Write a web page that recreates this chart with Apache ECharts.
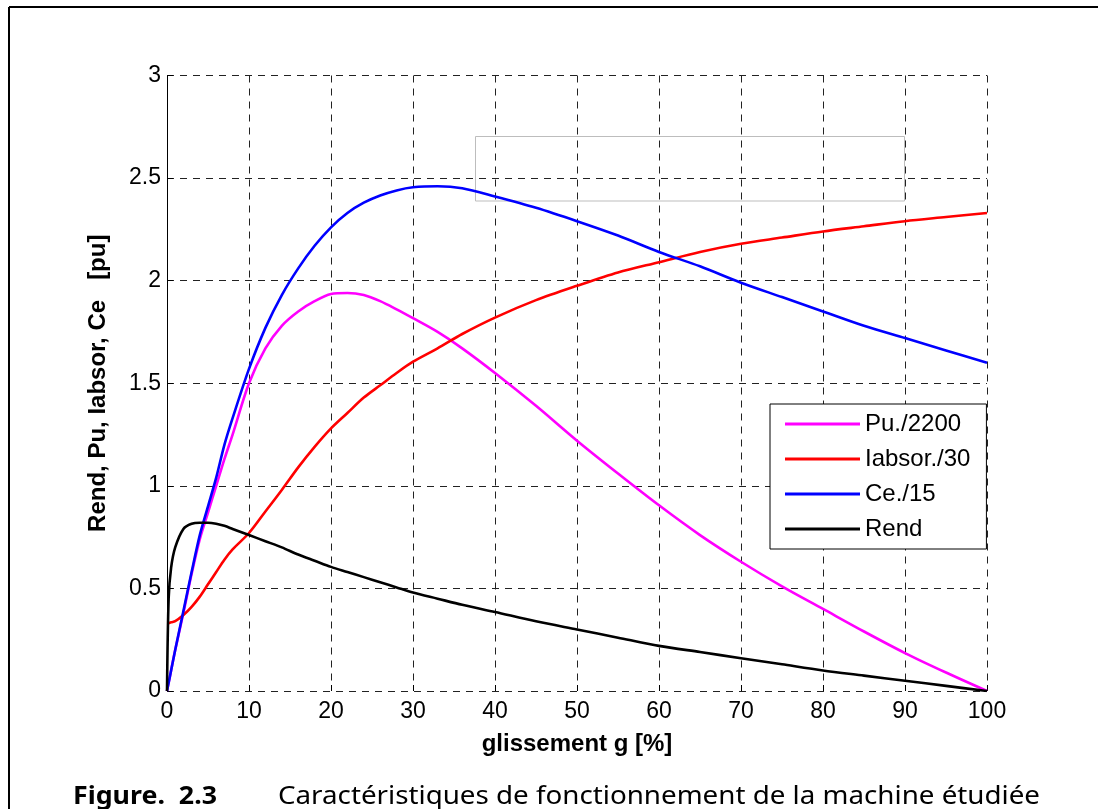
<!DOCTYPE html>
<html>
<head>
<meta charset="utf-8">
<script src="https://cdn.jsdelivr.net/npm/echarts@6/dist/echarts.min.js"></script>
<style>html,body{margin:0;padding:0;background:#fff;}#c{width:1098px;height:809px;}</style>
</head>
<body>
<div id="c"></div>
<script>
// slip values g [%]
const slip = [0, 0.2, 0.5, 1, 2, 3, 4, 5, 6, 7, 8, 10, 12, 14, 16, 18, 20, 22, 24, 26, 28, 30, 33, 36, 40, 45, 50, 55, 60, 65, 70, 75, 80, 85, 90, 95, 100];
const puValues = [0, 0.04, 0.1, 0.2, 0.38, 0.57, 0.74, 0.87, 1.0, 1.13, 1.25, 1.5, 1.67, 1.78, 1.85, 1.9, 1.935, 1.94, 1.93, 1.9, 1.86, 1.817, 1.75, 1.67, 1.55, 1.39, 1.22, 1.06, 0.905, 0.76, 0.63, 0.51, 0.40, 0.29, 0.185, 0.09, 0.0];
const iabsorValues = [0.33, 0.33, 0.335, 0.34, 0.37, 0.41, 0.46, 0.52, 0.58, 0.64, 0.69, 0.77, 0.875, 0.98, 1.09, 1.19, 1.28, 1.355, 1.43, 1.49, 1.55, 1.605, 1.67, 1.74, 1.82, 1.905, 1.975, 2.04, 2.09, 2.14, 2.18, 2.21, 2.24, 2.265, 2.29, 2.31, 2.33];
const ceValues = [0, 0.04, 0.1, 0.2, 0.39, 0.58, 0.76, 0.9, 1.04, 1.2, 1.33, 1.57, 1.77, 1.93, 2.06, 2.17, 2.26, 2.33, 2.38, 2.415, 2.44, 2.455, 2.46, 2.45, 2.41, 2.355, 2.29, 2.22, 2.14, 2.07, 1.99, 1.92, 1.85, 1.78, 1.72, 1.66, 1.60];
const rendValues = [0, 0.45, 0.6, 0.7, 0.79, 0.815, 0.82, 0.82, 0.815, 0.805, 0.79, 0.76, 0.73, 0.70, 0.665, 0.635, 0.605, 0.58, 0.555, 0.53, 0.505, 0.48, 0.45, 0.42, 0.385, 0.34, 0.30, 0.26, 0.22, 0.19, 0.16, 0.13, 0.10, 0.075, 0.05, 0.025, 0];
const seriesNames = ['Pu./2200', 'Iabsor./30', 'Ce./15', 'Rend'];
const xTicks = [0, 10, 20, 30, 40, 50, 60, 70, 80, 90, 100];
const yTicks = [0, 0.5, 1, 1.5, 2, 2.5, 3];
const xLabel = 'glissement g [%]';
const yLabel = 'Rend, Pu, Iabsor, Ce   [pu]';
const captionBold = 'Figure.  2.3';
const captionText = 'Caractéristiques de fonctionnement de la machine étudiée';

const colors = ['#ff00ff', '#ff0000', '#0000ff', '#000000'];
const allValues = [puValues, iabsorValues, ceValues, rendValues];

const FONT = 'Liberation Sans, Arial, sans-serif';
const ctx = document.createElement('canvas').getContext('2d');
function fitScale(text, font, target) { ctx.font = font; return target / ctx.measureText(text).width; }
const capFontB = 'bold 25px "Noto Sans"';
const capFont = '25px "Noto Sans"';
const sB = fitScale(captionBold, capFontB, 144);
const sT = fitScale(captionText, capFont, 762);

const chart = echarts.init(document.getElementById('c'), null, { renderer: 'canvas' });
const gridLine = { show: true, lineStyle: { color: '#222', width: 1, type: [7, 6] } };
chart.setOption({
  animation: false,
  backgroundColor: '#fff',
  grid: { left: 167, top: 75.5, right: 111, bottom: 118, containLabel: false },
  xAxis: {
    type: 'value', min: xTicks[0], max: xTicks[xTicks.length - 1], interval: 10,
    axisLine: { show: false },
    axisTick: { show: true, inside: true, length: 6, lineStyle: { color: '#000', width: 1 } },
    axisLabel: { color: '#000', fontSize: 23, fontFamily: FONT, margin: 9 },
    splitLine: gridLine,
    name: xLabel, nameLocation: 'middle', nameGap: 41,
    nameTextStyle: { color: '#000', fontSize: 24, fontWeight: 'bold', fontFamily: FONT }
  },
  yAxis: {
    type: 'value', min: yTicks[0], max: yTicks[yTicks.length - 1], interval: 0.5,
    axisLine: { show: true, lineStyle: { color: '#000', width: 1 } },
    axisTick: { show: true, inside: true, length: 6, lineStyle: { color: '#000', width: 1 } },
    axisLabel: { color: '#000', fontSize: 23, fontFamily: FONT, margin: 6 },
    splitLine: gridLine,
    name: yLabel, nameLocation: 'middle', nameGap: 57, nameRotate: 90,
    nameTextStyle: { color: '#000', fontSize: 24, fontWeight: 'bold', fontFamily: FONT }
  },
  legend: {
    orient: 'vertical', left: 770, top: 404,
    padding: [8, 16, 8, 15], itemGap: 11, itemWidth: 75, itemHeight: 3, itemTextGap: 8,
    icon: 'rect',
    backgroundColor: '#fff', borderColor: '#000', borderWidth: 1, borderRadius: 0,
    textStyle: { color: '#000', fontSize: 24, fontFamily: FONT },
    data: seriesNames
  },
  series: seriesNames.map((n, i) => ({
    name: n, type: 'line', symbol: 'none', showSymbol: false,
    smooth: 0.3,
    lineStyle: { color: colors[i], width: 2.6 }, itemStyle: { color: colors[i] },
    z: 3 + i,
    data: slip.map((g, k) => [g, allValues[i][k]])
  })),
  graphic: [
    { type: 'line', shape: { x1: 9, y1: 7, x2: 9, y2: 809 }, style: { stroke: '#000', lineWidth: 2 } },
    { type: 'line', shape: { x1: 9, y1: 7, x2: 1098, y2: 7 }, style: { stroke: '#000', lineWidth: 2 } },
    { type: 'rect', z: 1, shape: { x: 475.5, y: 136.5, width: 429, height: 64.5 }, style: { fill: null, stroke: '#bdbdbd', lineWidth: 1 } },
    { type: 'text', x: 73, y: 797, scaleX: sB, style: { text: captionBold, font: capFontB, fill: '#000', verticalAlign: 'middle' } },
    { type: 'text', x: 278, y: 797, scaleX: sT, style: { text: captionText, font: capFont, fill: '#000', verticalAlign: 'middle' } }
  ]
});
</script>
</body>
</html>
